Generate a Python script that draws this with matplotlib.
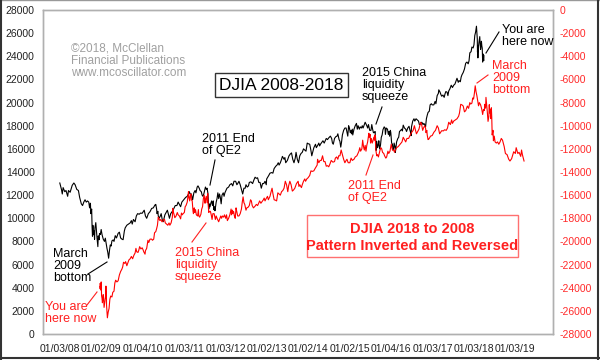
import numpy as np
import matplotlib.pyplot as plt
from matplotlib.lines import Line2D
from matplotlib.patches import Rectangle

plt.rcParams['font.family'] = ['Liberation Sans', 'DejaVu Sans']

# DJIA 2008-2018, decimal years / close
black_year = [
    2008.00, 2008.04, 2008.06, 2008.08, 2008.12, 2008.15, 2008.19, 2008.21, 2008.25, 2008.30,
    2008.34, 2008.37, 2008.41, 2008.45, 2008.48, 2008.52, 2008.55, 2008.58, 2008.61, 2008.64,
    2008.67, 2008.70, 2008.72, 2008.74, 2008.75, 2008.77, 2008.78, 2008.79, 2008.80, 2008.81,
    2008.83, 2008.84, 2008.85, 2008.87, 2008.89, 2008.90, 2008.92, 2008.93, 2008.95, 2008.96,
    2008.98, 2009.00, 2009.02, 2009.05, 2009.08, 2009.10, 2009.12, 2009.14, 2009.16, 2009.18,
    2009.20, 2009.22, 2009.24, 2009.26, 2009.29, 2009.31, 2009.34, 2009.37, 2009.41, 2009.44,
    2009.47, 2009.50, 2009.53, 2009.56, 2009.58, 2009.62, 2009.66, 2009.70, 2009.73, 2009.75,
    2009.78, 2009.82, 2009.85, 2009.88, 2009.92, 2009.95, 2009.99, 2010.04, 2010.07, 2010.10,
    2010.14, 2010.18, 2010.22, 2010.26, 2010.30, 2010.32, 2010.34, 2010.35, 2010.37, 2010.38,
    2010.40, 2010.43, 2010.45, 2010.48, 2010.50, 2010.54, 2010.57, 2010.60, 2010.63, 2010.65,
    2010.68, 2010.72, 2010.75, 2010.79, 2010.83, 2010.86, 2010.89, 2010.92, 2010.95, 2010.99,
    2011.04, 2011.08, 2011.11, 2011.13, 2011.15, 2011.18, 2011.21, 2011.24, 2011.27, 2011.29,
    2011.32, 2011.34, 2011.37, 2011.39, 2011.42, 2011.44, 2011.46, 2011.48, 2011.50, 2011.52,
    2011.54, 2011.56, 2011.58, 2011.59, 2011.60, 2011.61, 2011.63, 2011.65, 2011.67, 2011.69,
    2011.71, 2011.72, 2011.74, 2011.75, 2011.78, 2011.80, 2011.82, 2011.84, 2011.86, 2011.88,
    2011.90, 2011.92, 2011.95, 2011.97, 2011.99, 2012.04, 2012.08, 2012.11, 2012.15, 2012.18,
    2012.21, 2012.25, 2012.28, 2012.30, 2012.33, 2012.36, 2012.39, 2012.42, 2012.45, 2012.48,
    2012.50, 2012.53, 2012.56, 2012.58, 2012.62, 2012.66, 2012.69, 2012.72, 2012.75, 2012.78,
    2012.81, 2012.84, 2012.87, 2012.90, 2012.93, 2012.96, 2012.99, 2013.00, 2013.05, 2013.08,
    2013.12, 2013.15, 2013.18, 2013.22, 2013.25, 2013.28, 2013.30, 2013.33, 2013.36, 2013.38,
    2013.42, 2013.44, 2013.46, 2013.50, 2013.54, 2013.57, 2013.60, 2013.63, 2013.66, 2013.69,
    2013.71, 2013.74, 2013.77, 2013.80, 2013.83, 2013.86, 2013.89, 2013.92, 2013.95, 2013.98,
    2014.00, 2014.04, 2014.07, 2014.09, 2014.12, 2014.14, 2014.18, 2014.20, 2014.24, 2014.26,
    2014.28, 2014.30, 2014.33, 2014.36, 2014.39, 2014.42, 2014.44, 2014.47, 2014.50, 2014.54,
    2014.57, 2014.59, 2014.61, 2014.64, 2014.67, 2014.70, 2014.72, 2014.75, 2014.77, 2014.79,
    2014.81, 2014.83, 2014.86, 2014.89, 2014.92, 2014.95, 2014.96, 2014.98, 2015.00, 2015.02,
    2015.04, 2015.05, 2015.07, 2015.08, 2015.11, 2015.14, 2015.17, 2015.19, 2015.21, 2015.24,
    2015.26, 2015.29, 2015.31, 2015.33, 2015.36, 2015.38, 2015.42, 2015.44, 2015.46, 2015.49,
    2015.52, 2015.54, 2015.56, 2015.58, 2015.60, 2015.62, 2015.64, 2015.645, 2015.66, 2015.68,
    2015.70, 2015.71, 2015.73, 2015.75, 2015.77, 2015.79, 2015.81, 2015.84, 2015.86, 2015.87,
    2015.89, 2015.92, 2015.94, 2015.96, 2015.97, 2015.99, 2016.00, 2016.02, 2016.04, 2016.05,
    2016.07, 2016.08, 2016.10, 2016.11, 2016.14, 2016.17, 2016.19, 2016.21, 2016.24, 2016.26,
    2016.28, 2016.30, 2016.33, 2016.36, 2016.38, 2016.41, 2016.44, 2016.46, 2016.48, 2016.49,
    2016.50, 2016.53, 2016.56, 2016.58, 2016.61, 2016.64, 2016.67, 2016.69, 2016.71, 2016.73,
    2016.75, 2016.78, 2016.80, 2016.83, 2016.84, 2016.86, 2016.88, 2016.90, 2016.93, 2016.95,
    2016.98, 2017.00, 2017.04, 2017.07, 2017.09, 2017.12, 2017.15, 2017.16, 2017.19, 2017.21,
    2017.23, 2017.26, 2017.29, 2017.31, 2017.33, 2017.36, 2017.38, 2017.40, 2017.43, 2017.46,
    2017.49, 2017.52, 2017.55, 2017.58, 2017.60, 2017.62, 2017.63, 2017.65, 2017.68, 2017.70,
    2017.72, 2017.75, 2017.78, 2017.81, 2017.84, 2017.87, 2017.89, 2017.91, 2017.94, 2017.96,
    2017.99, 2018.01, 2018.03, 2018.05, 2018.07, 2018.08, 2018.09, 2018.095, 2018.10, 2018.105,
    2018.11, 2018.13, 2018.15, 2018.16, 2018.17, 2018.18, 2018.19, 2018.20, 2018.21, 2018.22,
    2018.23, 2018.24, 2018.245, 2018.25,
]
black_val = [
    13050, 12500, 12100, 12650, 12300, 12400, 11900, 12400, 12250, 12850,
    13050, 12900, 12500, 12400, 11800, 11250, 11100, 11400, 11600, 11400,
    11500, 11400, 10900, 11300, 10400, 10800, 9300, 8450, 9390, 8580,
    8900, 8180, 9180, 9625, 8700, 8280, 7550, 8480, 8150, 8690,
    8600, 9030, 8600, 8200, 8000, 8280, 7850, 7400, 7060, 6550,
    7200, 7700, 7600, 8050, 8130, 8000, 8500, 8300, 8700, 8800,
    8300, 8200, 8150, 8900, 9170, 9400, 9500, 9600, 9800, 9500,
    9900, 9700, 10200, 10400, 10350, 10450, 10430, 10700, 10200, 10000,
    10400, 10570, 10850, 10900, 11150, 11200, 10800, 10400, 10600, 10200,
    10000, 10200, 10400, 9800, 9700, 10300, 10500, 10700, 10300, 10000,
    10400, 10600, 10800, 11100, 11100, 11400, 11200, 11000, 11400, 11580,
    11800, 11900, 12100, 12300, 12100, 12100, 11600, 12200, 12400, 12200,
    12700, 12800, 12600, 12400, 12300, 12000, 11900, 12100, 12400, 12700,
    12500, 12600, 12150, 11400, 10800, 11250, 10990, 11300, 11500, 11100,
    11500, 10750, 11000, 10650, 11400, 11700, 12200, 11700, 12100, 11800,
    11250, 12000, 12200, 11900, 12200, 12600, 12700, 12900, 13000, 12800,
    13200, 13200, 12900, 13000, 13200, 12900, 12500, 12100, 12600, 12600,
    12900, 12700, 12800, 13100, 13150, 13000, 13300, 13550, 13450, 13500,
    13100, 13100, 12600, 13000, 13000, 13200, 12900, 13400, 13700, 13900,
    13950, 13900, 14300, 14500, 14600, 14800, 14600, 14800, 15100, 15350,
    15100, 15250, 14800, 15000, 15400, 15550, 15650, 15100, 14800, 15200,
    15700, 15100, 14800, 15400, 15600, 15700, 16000, 15900, 15800, 16500,
    16450, 16400, 15850, 15400, 15800, 16100, 16400, 16100, 16350, 16500,
    16250, 16400, 16550, 16700, 16500, 16750, 16900, 16800, 16950, 17100,
    16900, 16500, 16400, 16900, 17050, 17100, 17300, 16800, 16650, 16150,
    16600, 17200, 17600, 17800, 17800, 17300, 17100, 18000, 17800, 17400,
    17600, 17300, 17700, 17200, 17700, 18000, 18200, 17700, 18000, 17700,
    17900, 17800, 18000, 17800, 18100, 18300, 18000, 17800, 18100, 17600,
    17600, 18100, 17700, 17400, 17400, 17500, 16500, 15870, 16650, 16100,
    16400, 16700, 16000, 16300, 17000, 17200, 17650, 17900, 17800, 17250,
    17800, 17700, 17250, 17500, 17100, 17600, 17400, 16500, 16400, 15900,
    16100, 16500, 16200, 15700, 16600, 16900, 17000, 17500, 17600, 17700,
    17550, 18050, 17800, 17700, 17500, 17800, 17950, 17650, 17400, 17140,
    17900, 18400, 18600, 18400, 18600, 18500, 18400, 18100, 18100, 18250,
    18300, 18100, 18200, 18000, 17900, 18600, 18900, 19150, 19250, 19800,
    19900, 19800, 19800, 20100, 19900, 20600, 20800, 21100, 20900, 20700,
    20550, 20650, 20450, 20750, 20950, 20900, 20600, 21000, 21200, 21500,
    21300, 21500, 21600, 21900, 22100, 21850, 21750, 21900, 21800, 22200,
    22400, 22600, 22900, 23400, 23500, 23350, 23600, 24300, 24400, 24800,
    24720, 25000, 25800, 26100, 26600, 26100, 25520, 24350, 24900, 23860,
    24600, 25200, 25700, 25000, 24600, 24900, 25300, 24900, 24700, 23500,
    24200, 23850, 24100, 23650,
]

# DJIA 2018 back to 2008, inverted (right axis)
red_year = [
    2008.97, 2008.975, 2008.98, 2008.99, 2009.00, 2009.01, 2009.02, 2009.03, 2009.04, 2009.05,
    2009.06, 2009.07, 2009.09, 2009.11, 2009.115, 2009.12, 2009.125, 2009.13, 2009.14, 2009.15,
    2009.17, 2009.19, 2009.21, 2009.23, 2009.26, 2009.28, 2009.31, 2009.33, 2009.35, 2009.38,
    2009.41, 2009.44, 2009.47, 2009.50, 2009.52, 2009.54, 2009.57, 2009.59, 2009.60, 2009.62,
    2009.64, 2009.67, 2009.70, 2009.73, 2009.76, 2009.79, 2009.82, 2009.84, 2009.86, 2009.89,
    2009.91, 2009.93, 2009.96, 2009.99, 2010.01, 2010.03, 2010.06, 2010.07, 2010.10, 2010.13,
    2010.15, 2010.18, 2010.22, 2010.24, 2010.27, 2010.29, 2010.32, 2010.34, 2010.36, 2010.38,
    2010.39, 2010.42, 2010.44, 2010.47, 2010.49, 2010.51, 2010.53, 2010.55, 2010.58, 2010.61,
    2010.64, 2010.66, 2010.69, 2010.72, 2010.73, 2010.74, 2010.76, 2010.78, 2010.81, 2010.84,
    2010.86, 2010.89, 2010.92, 2010.94, 2010.96, 2010.98, 2011.01, 2011.03, 2011.05, 2011.08,
    2011.11, 2011.12, 2011.14, 2011.15, 2011.17, 2011.18, 2011.20, 2011.22, 2011.23, 2011.25,
    2011.26, 2011.28, 2011.30, 2011.33, 2011.35, 2011.36, 2011.38, 2011.41, 2011.43, 2011.45,
    2011.47, 2011.49, 2011.51, 2011.52, 2011.54, 2011.56, 2011.575, 2011.58, 2011.60, 2011.62,
    2011.64, 2011.66, 2011.68, 2011.70, 2011.73, 2011.76, 2011.78, 2011.80, 2011.84, 2011.86,
    2011.89, 2011.91, 2011.93, 2011.96, 2011.98, 2012.01, 2012.03, 2012.05, 2012.08, 2012.11,
    2012.14, 2012.15, 2012.17, 2012.18, 2012.20, 2012.22, 2012.24, 2012.26, 2012.27, 2012.30,
    2012.33, 2012.36, 2012.39, 2012.41, 2012.43, 2012.45, 2012.47, 2012.50, 2012.52, 2012.55,
    2012.58, 2012.61, 2012.63, 2012.65, 2012.68, 2012.72, 2012.75, 2012.78, 2012.80, 2012.83,
    2012.86, 2012.89, 2012.92, 2012.94, 2012.96, 2012.98, 2013.02, 2013.04, 2013.08, 2013.10,
    2013.13, 2013.15, 2013.18, 2013.22, 2013.24, 2013.27, 2013.30, 2013.33, 2013.36, 2013.39,
    2013.42, 2013.45, 2013.48, 2013.51, 2013.53, 2013.56, 2013.59, 2013.62, 2013.65, 2013.68,
    2013.72, 2013.76, 2013.78, 2013.80, 2013.84, 2013.86, 2013.89, 2013.92, 2013.94, 2013.97,
    2014.00, 2014.04, 2014.07, 2014.10, 2014.14, 2014.17, 2014.22, 2014.23, 2014.26, 2014.29,
    2014.32, 2014.35, 2014.38, 2014.41, 2014.44, 2014.47, 2014.50, 2014.53, 2014.56, 2014.60,
    2014.64, 2014.66, 2014.69, 2014.72, 2014.74, 2014.77, 2014.80, 2014.83, 2014.86, 2014.89,
    2014.92, 2014.94, 2014.97, 2015.01, 2015.04, 2015.07, 2015.11, 2015.14, 2015.18, 2015.23,
    2015.25, 2015.27, 2015.30, 2015.32, 2015.34, 2015.36, 2015.38, 2015.40, 2015.42, 2015.44,
    2015.47, 2015.48, 2015.50, 2015.51, 2015.53, 2015.55, 2015.57, 2015.59, 2015.61, 2015.62,
    2015.63, 2015.64, 2015.66, 2015.68, 2015.70, 2015.72, 2015.74, 2015.76, 2015.78, 2015.80,
    2015.83, 2015.85, 2015.88, 2015.90, 2015.93, 2015.95, 2015.98, 2016.01, 2016.04, 2016.07,
    2016.09, 2016.11, 2016.14, 2016.18, 2016.23, 2016.27, 2016.30, 2016.33, 2016.36, 2016.39,
    2016.43, 2016.47, 2016.50, 2016.54, 2016.57, 2016.59, 2016.62, 2016.65, 2016.68, 2016.72,
    2016.74, 2016.77, 2016.79, 2016.82, 2016.84, 2016.85, 2016.87, 2016.88, 2016.90, 2016.92,
    2016.96, 2017.00, 2017.04, 2017.08, 2017.12, 2017.15, 2017.18, 2017.23, 2017.27, 2017.30,
    2017.34, 2017.37, 2017.40, 2017.44, 2017.47, 2017.49, 2017.52, 2017.56, 2017.60, 2017.64,
    2017.66, 2017.69, 2017.72, 2017.75, 2017.78, 2017.81, 2017.85, 2017.88, 2017.91, 2017.93,
    2017.96, 2017.98, 2018.00, 2018.02, 2018.04, 2018.06, 2018.08, 2018.10, 2018.12, 2018.14,
    2018.17, 2018.20, 2018.22, 2018.24, 2018.26, 2018.27, 2018.29, 2018.30, 2018.32, 2018.33,
    2018.35, 2018.37, 2018.38, 2018.39, 2018.41, 2018.42, 2018.43, 2018.44, 2018.45, 2018.47,
    2018.48, 2018.50, 2018.52, 2018.55, 2018.58, 2018.61, 2018.64, 2018.67, 2018.70, 2018.74,
    2018.77, 2018.81, 2018.85, 2018.88, 2018.92, 2018.97, 2019.01, 2019.03, 2019.07, 2019.10,
    2019.14, 2019.16, 2019.18, 2019.22,
]
red_val = [
    -23650, -24100, -23850, -24200, -23500, -24700, -24900, -25300, -24900, -24600,
    -25000, -25700, -25200, -24600, -23860, -24900, -24350, -25520, -26100, -26600,
    -26100, -25800, -25000, -24720, -24800, -24400, -24300, -23600, -23350, -23500,
    -23400, -22900, -22600, -22400, -22200, -21800, -21900, -21750, -21850, -22100,
    -21900, -21600, -21500, -21300, -21500, -21200, -21000, -20600, -20900, -20950,
    -20750, -20450, -20650, -20550, -20700, -20900, -21100, -20800, -20600, -19900,
    -20100, -19800, -19800, -19900, -19800, -19250, -19150, -18900, -18600, -17900,
    -18000, -18200, -18100, -18300, -18250, -18100, -18100, -18400, -18500, -18600,
    -18400, -18600, -18400, -17900, -17140, -17400, -17650, -17950, -17800, -17500,
    -17700, -17800, -18050, -17550, -17700, -17600, -17500, -17000, -16900, -16600,
    -15700, -16200, -16500, -16100, -15900, -16400, -16500, -17400, -17600, -17100,
    -17500, -17250, -17700, -17800, -17250, -17800, -17900, -17650, -17200, -17000,
    -16300, -16000, -16700, -16400, -16100, -16650, -15870, -16500, -17500, -17400,
    -17400, -17700, -18100, -17600, -17600, -18100, -17800, -18000, -18300, -18100,
    -17800, -18000, -17800, -17900, -17700, -18000, -17700, -18200, -18000, -17700,
    -17200, -17700, -17300, -17600, -17400, -17800, -18000, -17100, -17300, -17800,
    -17800, -17600, -17200, -16600, -16150, -16650, -16800, -17300, -17100, -17050,
    -16900, -16400, -16500, -16900, -17100, -16950, -16800, -16900, -16750, -16500,
    -16700, -16550, -16400, -16250, -16500, -16350, -16100, -16400, -16100, -15800,
    -15400, -15850, -16400, -16450, -16500, -15800, -15900, -16000, -15700, -15600,
    -15400, -14800, -15100, -15700, -15200, -14800, -15100, -15650, -15550, -15400,
    -15000, -14800, -15250, -15100, -15350, -15100, -14800, -14600, -14800, -14600,
    -14500, -14300, -13900, -13950, -13900, -13700, -13400, -12900, -13200, -13000,
    -13000, -12600, -13100, -13100, -13500, -13450, -13550, -13300, -13000, -13150,
    -13100, -12800, -12700, -12900, -12600, -12600, -12100, -12500, -12900, -13200,
    -13000, -12900, -13200, -13200, -12800, -13000, -12900, -12700, -12600, -12200,
    -11900, -12200, -12000, -11250, -11800, -12100, -11700, -12200, -11700, -11400,
    -10650, -11000, -10750, -11500, -11100, -11500, -11300, -10990, -11250, -10800,
    -11400, -12150, -12600, -12500, -12700, -12400, -12100, -11900, -12000, -12300,
    -12400, -12600, -12800, -12700, -12200, -12400, -12200, -11600, -12100, -12100,
    -12300, -12100, -11900, -11800, -11580, -11400, -11000, -11200, -11400, -11100,
    -11100, -10800, -10600, -10400, -10000, -10300, -10700, -10500, -10300, -9700,
    -9800, -10400, -10200, -10000, -10200, -10600, -10400, -10800, -11200, -11150,
    -10900, -10850, -10570, -10400, -10000, -10200, -10700, -10430, -10450, -10350,
    -10400, -10200, -9700, -9900, -9500, -9800, -9600, -9500, -9400, -9170,
    -8900, -8150, -8200, -8300, -8800, -8700, -8300, -8500, -8000, -8130,
    -8050, -7600, -7700, -7200, -6550, -7060, -7400, -7850, -8280, -8000,
    -8200, -8600, -9030, -8600, -8690, -8150, -8480, -7550, -8280, -8700,
    -9625, -9180, -8180, -8900, -8580, -9390, -8450, -9300, -10800, -10400,
    -11300, -10900, -11400, -11500, -11400, -11600, -11400, -11100, -11250, -11800,
    -12400, -12500, -12900, -13050, -12850, -12250, -12400, -11900, -12400, -12300,
    -12650, -12100, -12500, -13050,
]

tick_year = [2008.005, 2009.003, 2010.008, 2011.005, 2012.005, 2013.003,
             2014.003, 2015.003, 2016.008, 2017.005, 2018.005, 2019.005]
tick_label = ['01/03/08', '01/02/09', '01/04/10', '01/03/11', '01/03/12', '01/02/13',
              '01/02/14', '01/02/15', '01/04/16', '01/03/17', '01/03/18', '01/03/19']
left_ticks = list(range(0, 28001, 2000))
right_ticks = list(range(-28000, 1, 2000))

W, H = 600, 360


def fp(x, y):
    # pixel position (top-left origin) -> figure fraction
    return x / W, 1 - y / H


fig = plt.figure(figsize=(6, 3.6), dpi=100)
ax = fig.add_axes([43 / W, 26 / H, 510 / W, 324 / H])
ax2 = ax.twinx()

ax.plot(black_year, black_val, color='black', lw=0.8)
ax2.plot(red_year, red_val, color='#ff0000', lw=0.8)

ax.set_xlim(2007.594, 2019.92)
ax.set_ylim(0, 28000)
ax2.set_ylim(-28000, 0)

ax.set_xticks(tick_year, tick_label)
ax.set_yticks(left_ticks, [str(v) for v in left_ticks])
ax2.set_yticks(right_ticks, [str(v) for v in right_ticks])
ax.tick_params(axis='x', length=0, pad=7, labelsize=7.5, colors='#222222')
ax.tick_params(axis='y', length=0, pad=6, labelsize=7.5, colors='#222222')
ax2.tick_params(axis='y', length=0, pad=5, labelsize=7.5, colors='#ff2a2a')

for a in (ax, ax2):
    for s in a.spines.values():
        s.set_color('#b0b0b0')
        s.set_linewidth(1)

# copyright
fig.text(*fp(71, 61), '©2018, McClellan\nFinancial Publications\nwww.mcoscillator.com',
         color='#a0a0a0', fontsize=8.5, va='center', ha='left', linespacing=1.05)

# title boxes
fig.patches.append(Rectangle(fp(215, 97), 133 / W, 24 / H, transform=fig.transFigure,
                             facecolor='white', edgecolor='#333333', lw=1))
fig.text(*fp(281.5, 85.5), 'DJIA 2008-2018', fontsize=12.5, ha='center', va='center',
         color='black')
fig.patches.append(Rectangle(fp(307, 257), 211 / W, 42 / H, transform=fig.transFigure,
                             facecolor='white', edgecolor='#ff7070', lw=1))
fig.text(*fp(412.5, 237.5), 'DJIA 2018 to 2008\nPattern Inverted and Reversed',
         fontsize=10.5, fontweight='bold', ha='center', va='center', color='#ff2020',
         linespacing=1.35)

# annotations: text, position, colour, pointer line
notes = [
    ('2011 End\nof QE2', (202, 145), 'black', ((215, 160), (210, 185))),
    ('2015 China\nliquidity\nsqueeze', (362, 85), 'black', ((382, 107), (376, 124))),
    ('You are\nhere now', (502, 36), 'black', ((499, 32), (486, 53))),
    ('March\n2009\nbottom', (492, 78), '#ff2020', ((488, 75), (477, 83))),
    ('March\n2009\nbottom', (53, 266), 'black', ((88, 274), (107, 262))),
    ('You are\nhere now', (45, 313), '#ff2020', ((87, 305), (97, 292))),
    ('2015 China\nliquidity\nsqueeze', (175, 265), '#ff2020', ((192, 242), (206, 223))),
    ('2011 End\nof QE2', (348, 192), '#ff2020', ((366, 175), (373, 155))),
]
for txt, (tx, ty), col, (p1, p2) in notes:
    fig.text(*fp(tx, ty), txt, color=col, fontsize=9, ha='left', va='center',
             linespacing=1.05)
    a1, b1 = fp(*p1)
    a2, b2 = fp(*p2)
    fig.add_artist(Line2D([a1, a2], [b1, b2], color=col, lw=0.8,
                          transform=fig.transFigure))

# outer frame
fig.add_artist(Line2D([0, 1], [0.999, 0.999], color='#999999', lw=1, transform=fig.transFigure))
fig.add_artist(Line2D([0.002, 0.002], [0, 1], color='#333333', lw=1.5, transform=fig.transFigure))
fig.add_artist(Line2D([0.997, 0.997], [0, 1], color='#333333', lw=1.5, transform=fig.transFigure))
fig.add_artist(Line2D([0, 1], [0.005, 0.005], color='#333333', lw=1.5, transform=fig.transFigure))

fig.savefig('out.png', dpi=100)
